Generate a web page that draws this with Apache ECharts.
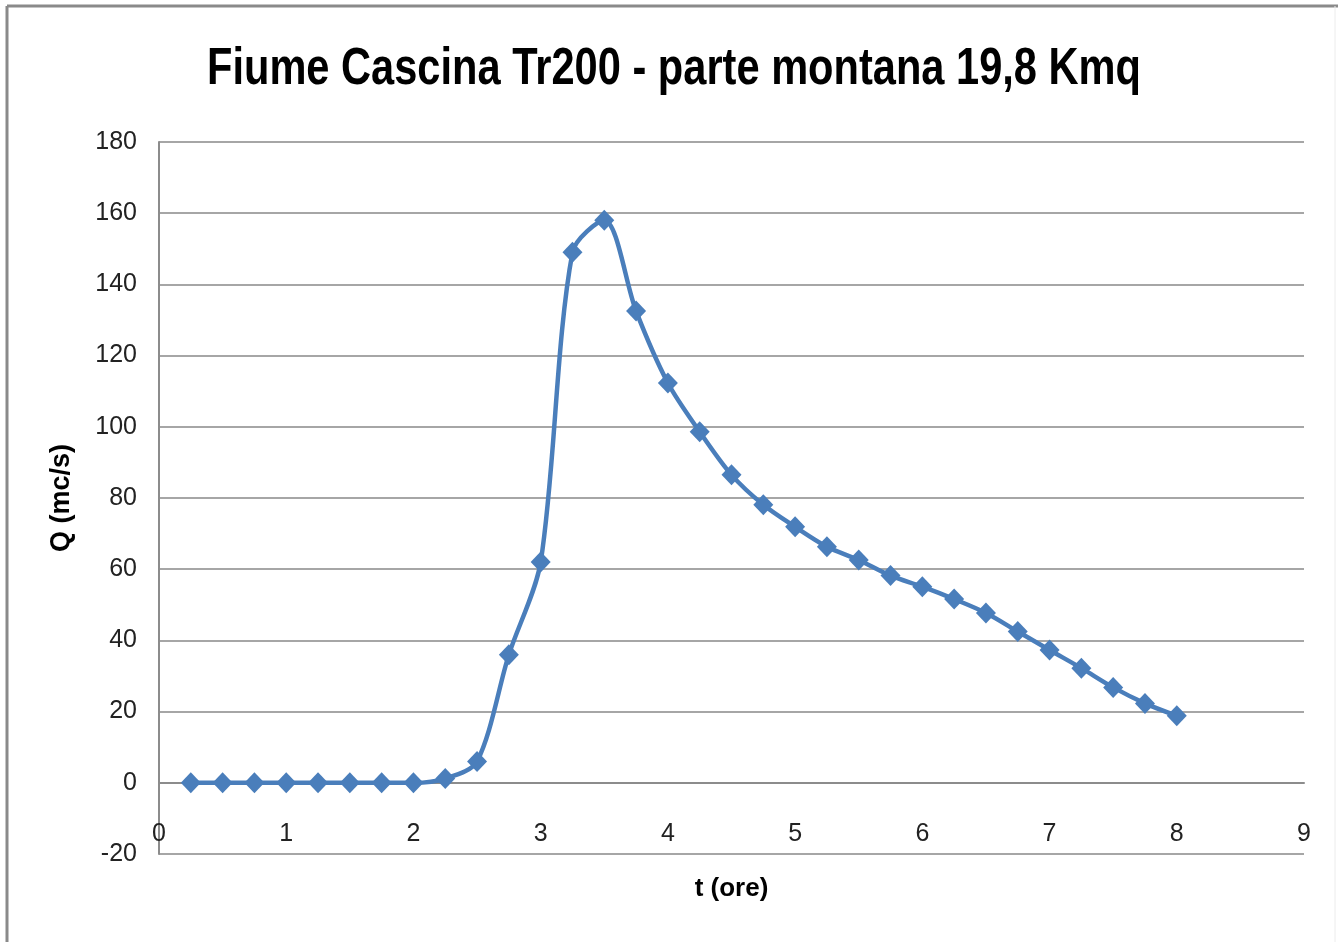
<!DOCTYPE html>
<html>
<head>
<meta charset="utf-8">
<script src="https://cdn.jsdelivr.net/npm/echarts@6/dist/echarts.min.js"></script>
<style>
  html, body { margin: 0; padding: 0; background: #ffffff; }
  #chart { width: 1341px; height: 942px; }
</style>
</head>
<body>
<div id="chart"></div>
<script>
// Hydrograph: time in hours and discharge in m³/s
const tOre = [0.25, 0.5, 0.75, 1, 1.25, 1.5, 1.75, 2, 2.25, 2.5, 2.75, 3, 3.25, 3.5, 3.75, 4,
              4.25, 4.5, 4.75, 5, 5.25, 5.5, 5.75, 6, 6.25, 6.5, 6.75, 7, 7.25, 7.5, 7.75, 8];
const portata = [0, 0, 0, 0, 0, 0, 0, 0, 1.2, 6, 36, 62, 149, 158, 132.5, 112.3,
                 98.6, 86.5, 78.1, 71.9, 66.3, 62.6, 58.2, 55.1, 51.6, 47.7, 42.5, 37.3, 32.2, 26.8, 22.3, 18.8];
const xTicks = [0, 1, 2, 3, 4, 5, 6, 7, 8, 9];
const yTicks = [-20, 0, 20, 40, 60, 80, 100, 120, 140, 160, 180];

const titolo = 'Fiume Cascina Tr200 - parte montana 19,8 Kmq';
const nomeX = 't (ore)';
const nomeY = 'Q (mc/s)';

const FONT = '"Liberation Sans", Arial, sans-serif';
const points = tOre.map((t, i) => [t, portata[i]]);

const chart = echarts.init(document.getElementById('chart'), null, { renderer: 'canvas' });
chart.setOption({
  backgroundColor: '#ffffff',
  animation: false,
  grid: { left: 159, right: 37, top: 142, bottom: 88, containLabel: false },
  xAxis: {
    type: 'value',
    min: xTicks[0],
    max: xTicks[xTicks.length - 1],
    interval: 1,
    name: nomeX,
    nameLocation: 'middle',
    nameGap: 22,
    nameTextStyle: { fontFamily: FONT, fontWeight: 'bold', fontSize: 26, color: '#000000' },
    axisLine: { show: true, lineStyle: { color: '#8c8c8c', width: 2 } },
    axisTick: { show: false },
    axisLabel: {
      inside: true, margin: 7, showMinLabel: true, showMaxLabel: true,
      fontFamily: FONT, fontSize: 25, color: '#222222'
    },
    splitLine: { show: false }
  },
  yAxis: {
    type: 'value',
    min: yTicks[0],
    max: yTicks[yTicks.length - 1],
    interval: 20,
    name: nomeY,
    nameLocation: 'middle',
    nameGap: 84,
    nameRotate: 90,
    nameTextStyle: { fontFamily: FONT, fontWeight: 'bold', fontSize: 27, color: '#000000' },
    axisLine: { show: true, lineStyle: { color: '#8c8c8c', width: 2 } },
    axisTick: { show: false },
    axisLabel: { margin: 22, fontFamily: FONT, fontSize: 25, color: '#222222' },
    splitLine: { show: true, lineStyle: { color: '#a6a6a6', width: 2 } }
  },
  series: [{
    type: 'line',
    data: points,
    smooth: 0.3,
    symbol: 'diamond',
    symbolSize: [20, 21],
    lineStyle: { color: '#4a7ebb', width: 4.5 },
    itemStyle: { color: '#4a7ebb' }
  }],
  graphic: [
    // chart title, slightly condensed horizontally
    {
      type: 'text', x: 674, y: 70, scaleX: 0.8,
      style: {
        text: titolo, fill: '#000000',
        font: 'bold 52px ' + FONT,
        align: 'center', verticalAlign: 'middle',
        textAlign: 'center', textVerticalAlign: 'middle'
      }
    },
    // frame
    { type: 'line', shape: { x1: 7, y1: 6, x2: 1338, y2: 6 }, style: { stroke: '#8a8a8a', lineWidth: 3 } },
    { type: 'line', shape: { x1: 7, y1: 6, x2: 7, y2: 942 }, style: { stroke: '#8a8a8a', lineWidth: 3 } },
    { type: 'line', shape: { x1: 1335, y1: 6, x2: 1335, y2: 942 }, style: { stroke: '#ececec', lineWidth: 1 } }
  ]
});
</script>
</body>
</html>
